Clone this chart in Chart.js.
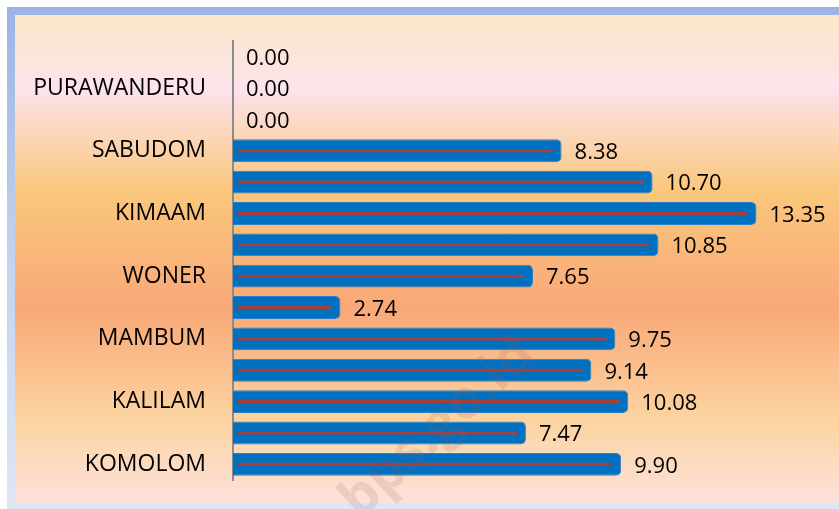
<!DOCTYPE html>
<html>
<head>
<meta charset="utf-8">
<script src="https://cdn.jsdelivr.net/npm/chart.js@4.4.1/dist/chart.umd.min.js"></script>
<style>
  body { margin: 0; background: #fff; overflow: hidden; }
  #frame {
    position: absolute; left: 7px; top: 7px; width: 840px; height: 502px;
    background: linear-gradient(to bottom, #9bb4e3 0%, #c3d2ee 50%, #dde6f5 100%);
  }
  #fill {
    position: absolute; left: 15px; top: 15px; width: 830px; height: 488px;
    background: linear-gradient(to bottom,
      #fae8c8 0%, #fde3ec 15%, #fac77c 36%, #f9a878 60%, #fcd4a0 83%, #fde1dc 100%);
  }
  #wrap { position: absolute; left: 0; top: 0; width: 839px; height: 509px; }
</style>
</head>
<body>
<div id="frame"></div>
<div id="fill"></div>
<div id="wrap"><canvas id="bars"></canvas></div>
<script>
// bottom to top, as in the sheet; unlabelled rows are left blank
var desa = ['KOMOLOM', '', 'KALILAM', '', 'MAMBUM', '', 'WONER', '', 'KIMAAM', '', 'SABUDOM', '', 'PURAWANDERU', ''];
var nilai = [9.90, 7.47, 10.08, 9.14, 9.75, 2.74, 7.65, 10.85, 13.35, 10.70, 8.38, 0.00, 0.00, 0.00];

var fontName = '"Open Sans", sans-serif';

// red stripe inside each bar + value text at the end
var barDeco = {
    id: 'barDeco',
    afterDatasetsDraw: function (chart) {
        var ctx = chart.ctx;
        var meta = chart.getDatasetMeta(0);
        ctx.save();
        meta.data.forEach(function (bar, i) {
            if (bar.x - bar.base > 16) {
                ctx.strokeStyle = '#a5403a';
                ctx.lineWidth = 3;
                ctx.beginPath();
                ctx.moveTo(bar.base + 5, bar.y);
                ctx.lineTo(bar.x - 9, bar.y);
                ctx.stroke();
            }
            ctx.fillStyle = '#000';
            ctx.font = '22px ' + fontName;
            ctx.textBaseline = 'middle';
            ctx.textAlign = 'left';
            ctx.fillText(nilai[i].toFixed(2), bar.x + 13, bar.y + 2);
        });
        // watermark
        ctx.translate(438, 428);
        ctx.rotate(-0.74);
        ctx.font = 'bold 54px ' + fontName;
        ctx.fillStyle = 'rgba(150, 95, 85, 0.15)';
        ctx.textAlign = 'center';
        ctx.fillText('bps.go.id', 0, 0);
        ctx.restore();
    }
};

var ctx = document.getElementById('bars').getContext('2d');
var myChart = new Chart(ctx, {
    type: 'bar',
    data: {
        labels: desa,
        datasets: [
            {
                data: nilai,
                backgroundColor: '#0070c0',
                borderColor: '#2f7fc6',
                borderWidth: 1,
                borderRadius: 5,
                borderSkipped: 'start',
                categoryPercentage: 1,
                barPercentage: 0.73,
            },
        ],
    },
    options: {
        indexAxis: 'y', // Horizontal bar chart
        responsive: true,
        maintainAspectRatio: false,
        animation: false,
        layout: {
            padding: { left: 15, top: 41, bottom: 29, right: 57 },
        },
        plugins: {
            legend: { display: false },
            tooltip: { enabled: false },
        },
        scales: {
            x: {
                display: false,
                min: 0,
                max: 14,
            },
            y: {
                reverse: true,
                afterFit: function (scale) {
                    scale.width = 218;
                    scale.paddingTop = 0;
                    scale.paddingBottom = 0;
                },
                grid: { display: false, drawTicks: false },
                border: { color: '#8c8c8c', width: 2 },
                ticks: {
                    autoSkip: false,
                    padding: 27,
                    color: '#000',
                    font: { family: fontName, size: 23 },
                },
            },
        },
    },
    plugins: [barDeco],
});
</script>
</body>
</html>
